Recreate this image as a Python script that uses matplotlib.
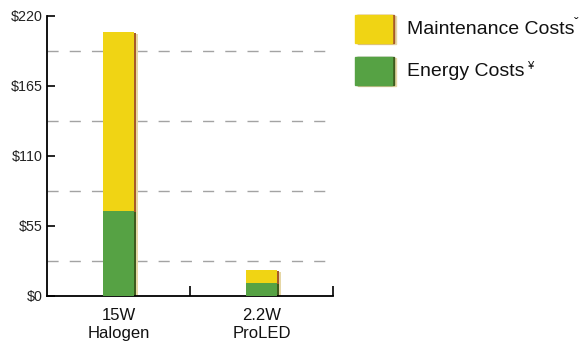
import matplotlib
matplotlib.use("Agg")
import matplotlib.pyplot as plt
from matplotlib.patches import Rectangle
import numpy as np

categories = ["15W\nHalogen", "2.2W\nProLED"]
energy = [66.5, 10.0]
maintenance = [141.0, 10.5]
series_names = ["Maintenance Costs", "Energy Costs"]
y_ticks = [0, 55, 110, 165, 220]
y_tick_labels = ["$0", "$55", "$110", "$165", "$220"]
grid_levels = [27.5, 82.5, 137.5, 192.5]

plt.rcParams['font.family'] = ['Liberation Sans', 'DejaVu Sans']

YEL = "#F0D414"
GRN = "#56A244"
YEL_SH = "#A65A2A"
GRN_SH = "#3E5A1C"
TAN = "#E6D7A6"

W, H = 582, 341
fig = plt.figure(figsize=(W / 100, H / 100), dpi=100)
ax = fig.add_axes([47 / W, 1 - 296 / H, (333 - 47) / W, (296 - 16) / H])

x = np.arange(len(categories))
bw = 0.217
px = 1.0 / 143.0  # data units per pixel horizontally
pyu = 220.0 / 280.0  # data units per pixel vertically
tot = np.array(energy) + np.array(maintenance)

# light tan shadow
ax.bar(x + 4 * px, tot - 2 * pyu, width=bw, color=TAN, zorder=1)
# dark shadows
ax.bar(x + 2 * px, np.array(energy) - 1 * pyu, width=bw, color=GRN_SH, zorder=2)
ax.bar(x + 2 * px, np.array(maintenance), bottom=np.array(energy) - 1 * pyu,
       width=bw, color=YEL_SH, zorder=2)
# main bars
ax.bar(x, energy, width=bw, color=GRN, zorder=3)
ax.bar(x, maintenance, bottom=energy, width=bw, color=YEL, zorder=3)

for g in grid_levels:
    ax.axhline(g, color="#A3A3A3", lw=1.0, ls=(0, (8, 8)), zorder=0)

ax.set_xlim(-0.5, 1.5)
ax.set_ylim(0, 220)
ax.set_yticks(y_ticks)
ax.set_yticklabels(y_tick_labels, fontsize=10.3, color="#222222")
ax.tick_params(axis="y", direction="in", length=6, width=1.2, pad=3)
ax.set_xticks(x)
ax.set_xticklabels(categories, fontsize=12, color="#111111", linespacing=1.2)
ax.tick_params(axis="x", which="major", length=0, pad=9)
ax.set_xticks([0.5, 1.5], minor=True)
ax.tick_params(axis="x", which="minor", direction="in", length=7, width=1.2)
for s in ["top", "right"]:
    ax.spines[s].set_visible(False)
for s in ["left", "bottom"]:
    ax.spines[s].set_linewidth(1.3)

# legend
def fx(p):
    return p / W
def fy(p):
    return 1 - p / H

fig.canvas.draw()
renderer = fig.canvas.get_renderer()
items = [(series_names[0], YEL, YEL_SH, 15, 43, "ˇ", 0, 10), (series_names[1], GRN, GRN_SH, 57, 85, "¥", 4, 8)]
for name, c, sh, y0, y1, mark, gap, msize in items:
    fig.add_artist(Rectangle((fx(358), fy(y1 + 1)), fx(38), (y1 - y0) / H, color=TAN, transform=fig.transFigure, zorder=1))
    fig.add_artist(Rectangle((fx(357), fy(y1)), fx(37), (y1 - y0) / H, color=sh, transform=fig.transFigure, zorder=2))
    fig.add_artist(Rectangle((fx(355), fy(y1)), fx(37), (y1 - y0) / H, color=c, transform=fig.transFigure, zorder=3))
    t = fig.text(fx(407), fy((y0 + y1) / 2 + 1), name, fontsize=14, va="center", ha="left", color="#111111")
    bb = t.get_window_extent(renderer)
    fig.text(fx(bb.x1 + gap), fy((y0 + y1) / 2 - 5), mark, fontsize=msize, va="center", ha="left", color="#111111")

fig.savefig("out.png", dpi=100)
